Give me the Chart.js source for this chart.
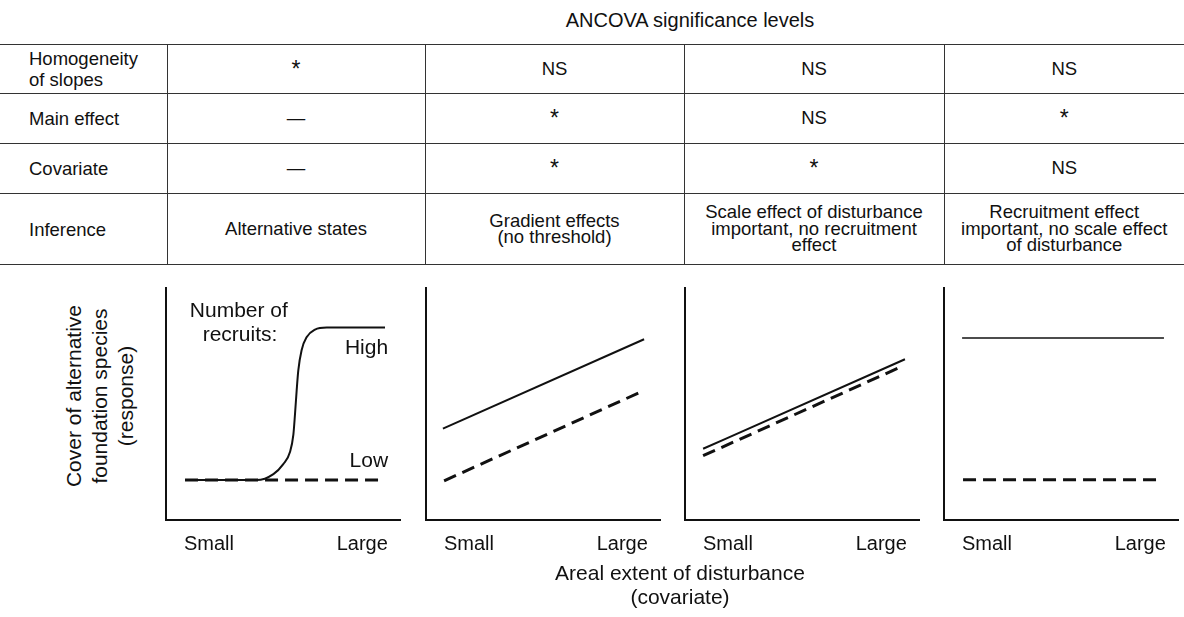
<!DOCTYPE html>
<html>
<head>
<meta charset="utf-8">
<title>ANCOVA significance levels</title>
<script src="https://cdn.jsdelivr.net/npm/chart.js"></script>
<style>
  body { margin: 0; background: #fff; width: 1184px; height: 617px; overflow: hidden; position: relative;
         font-family: "Liberation Sans", Arial, sans-serif; color: #111; }
  .title { position: absolute; left: 390px; top: 8px; width: 600px; text-align: center; font-size: 20px; line-height: 24px; }
  #tbl { position: absolute; left: 0; top: 44px; width: 1184px; border-collapse: collapse; table-layout: fixed; font-size: 18.5px; }
  #tbl td { border-top: 1px solid #333; border-bottom: 1px solid #333; padding: 0; text-align: center;
            vertical-align: middle; white-space: pre-line; line-height: 16.5px; }
  #tbl td + td { border-left: 1px solid #333; }
  #tbl td:first-child { text-align: left; padding-left: 29px; line-height: 21px; }
  #tbl .star { font-size: 23px; }
  .panel { position: absolute; top: 283px; }
  .ytitle { position: absolute; left: -10px; top: 357px; width: 220px; height: 78px; text-align: center;
            font-size: 21px; line-height: 26px; transform: rotate(-90deg); }
  .xtitle { position: absolute; left: 480px; top: 561px; width: 400px; text-align: center; font-size: 21px; line-height: 24px; }
</style>
</head>
<body>
<div class="title">ANCOVA significance levels</div>
<table id="tbl">
  <colgroup><col style="width:167px"><col style="width:258px"><col style="width:259px"><col style="width:260px"><col style="width:240px"></colgroup>
  <tbody></tbody>
</table>

<canvas id="p1" class="panel" width="237" height="285" style="left:164px"></canvas>
<canvas id="p2" class="panel" width="237" height="285" style="left:424px"></canvas>
<canvas id="p3" class="panel" width="237" height="285" style="left:683px"></canvas>
<canvas id="p4" class="panel" width="237" height="285" style="left:942px"></canvas>

<div class="ytitle">Cover of alternative<br>foundation species<br>(response)</div>
<div class="xtitle">Areal extent of disturbance<br>(covariate)</div>

<script>
// table contents
const rowNames = ['Homogeneity\nof slopes', 'Main effect', 'Covariate', 'Inference'];
const altStates = ['*', '—', '—', 'Alternative states'];
const gradient = ['NS', '*', '*', 'Gradient effects\n(no threshold)'];
const scaleEffect = ['NS', 'NS', '*', 'Scale effect of disturbance\nimportant, no recruitment\neffect'];
const recruitEffect = ['NS', '*', 'NS', 'Recruitment effect\nimportant, no scale effect\nof disturbance'];

// x axis ticks (0-100 = small..large)
const xTickLabels = ['Small', 'Large'];
const xTickValues = [18.3, 83.5];

// panel 1: alternative states
const altHighX = [8.1, 38.6, 45.7, 49.9, 52.8, 54.2, 54.9, 55.6, 56.3, 57.7, 59.9, 63.4, 68.4, 93.2];
const altHighY = [17.2, 17.2, 19.8, 24.1, 29.4, 36.8, 45.7, 55.8, 64.5, 73.2, 78.9, 82.1, 83.0, 83.0];
const altLowX = [8.1, 92];
const altLowY = [17.2, 17.2];
// panel 2: gradient effects
const gradHighX = [7.2, 92.8];
const gradHighY = [39.4, 77.9];
const gradLowX = [7.7, 91.9];
const gradLowY = [16.9, 55.4];
// panel 3: scale effect
const scaleHighX = [7.7, 93.6];
const scaleHighY = [30.7, 69.3];
const scaleLowX = [7.7, 92.3];
const scaleLowY = [27.7, 66.2];
// panel 4: recruitment effect
const recHighX = [7.7, 93.6];
const recHighY = [78.4, 78.4];
const recLowX = [8.1, 91.9];
const recLowY = [17.3, 17.3];

// build table
const tbody = document.querySelector('#tbl tbody');
const rowHeights = [49, 50, 50, 71];
rowNames.forEach((name, r) => {
  const tr = document.createElement('tr');
  tr.style.height = rowHeights[r] + 'px';
  [name, altStates[r], gradient[r], scaleEffect[r], recruitEffect[r]].forEach(txt => {
    const td = document.createElement('td');
    td.textContent = txt;
    if (txt === '*') td.className = 'star';
    tr.appendChild(td);
  });
  tbody.appendChild(tr);
});

const ink = '#111';
const font = { family: '"Liberation Sans", Arial, sans-serif', size: 20 };

function pts(xs, ys) {
  return xs.map((x, i) => ({ x: x, y: ys[i] }));
}

// text labels inside a panel, placed through the scales
const notePlugin = {
  id: 'notes',
  afterDatasetsDraw(chart, args, opts) {
    const items = opts.items || [];
    const ctx = chart.ctx;
    ctx.save();
    ctx.font = '21px "Liberation Sans", Arial, sans-serif';
    ctx.fillStyle = ink;
    ctx.textBaseline = 'middle';
    items.forEach(n => {
      ctx.textAlign = n.align;
      ctx.fillText(n.text, chart.scales.x.getPixelForValue(n.x), chart.scales.y.getPixelForValue(n.y));
    });
    ctx.restore();
  }
};

function solid(data, w) {
  return { data: data, borderColor: ink, borderWidth: w || 2, pointRadius: 0, cubicInterpolationMode: 'monotone', fill: false };
}
function dashed(data) {
  return { data: data, borderColor: ink, borderWidth: 3, borderDash: [13, 7], pointRadius: 0, fill: false };
}

function makePanel(id, datasets, notes) {
  new Chart(document.getElementById(id), {
    type: 'line',
    data: { datasets: datasets },
    options: {
      responsive: false,
      animation: false,
      layout: { padding: { left: 2, top: 5, right: 0, bottom: 0 } },
      plugins: { legend: { display: false }, tooltip: { enabled: false }, notes: { items: notes || [] } },
      scales: {
        x: {
          type: 'linear', min: 0, max: 100,
          grid: { display: false, drawTicks: false },
          border: { display: true, color: ink, width: 2 },
          afterBuildTicks: s => { s.ticks = xTickValues.map(v => ({ value: v })); },
          afterFit: s => { s.paddingLeft = 0; s.paddingRight = 0; },
          ticks: { callback: (v, i) => xTickLabels[i], font: font, color: ink, padding: 12, maxRotation: 0, autoSkip: false }
        },
        y: {
          min: 0, max: 100,
          grid: { display: false, drawTicks: false },
          border: { display: true, color: ink, width: 2 },
          ticks: { display: false }
        }
      }
    },
    plugins: [notePlugin]
  });
}

makePanel('p1', [solid(pts(altHighX, altHighY)), dashed(pts(altLowX, altLowY))], [
  { text: 'Number of', x: 31, y: 90, align: 'center' },
  { text: 'recruits:', x: 31.5, y: 79.7, align: 'center' },
  { text: 'High', x: 94.5, y: 74, align: 'right' },
  { text: 'Low', x: 94.5, y: 25.5, align: 'right' }
]);
makePanel('p2', [solid(pts(gradHighX, gradHighY)), dashed(pts(gradLowX, gradLowY))]);
makePanel('p3', [solid(pts(scaleHighX, scaleHighY)), dashed(pts(scaleLowX, scaleLowY))]);
makePanel('p4', [solid(pts(recHighX, recHighY), 1.5), dashed(pts(recLowX, recLowY))]);
</script>
</body>
</html>
